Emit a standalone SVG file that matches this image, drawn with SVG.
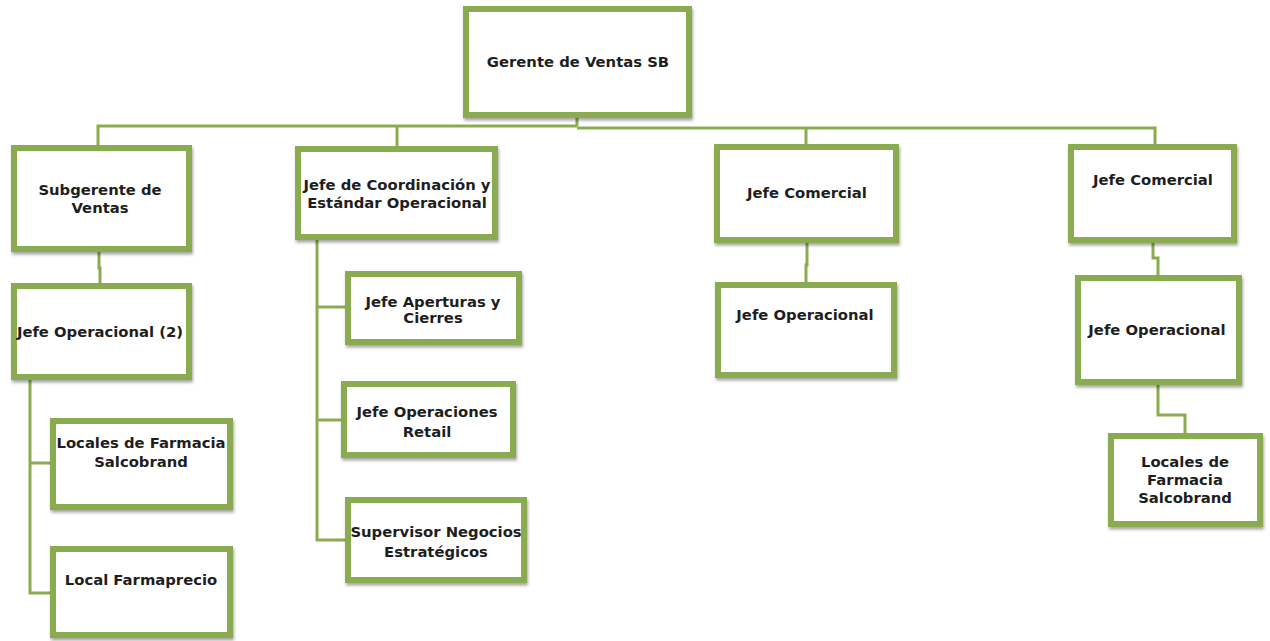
<svg xmlns="http://www.w3.org/2000/svg" width="1270" height="641" viewBox="0 0 1270 641">
  <defs>
    <filter id="shadow" x="-10%" y="-10%" width="120%" height="130%">
      <feDropShadow dx="1" dy="2.5" stdDeviation="1.6" flood-color="#000" flood-opacity="0.35"/>
    </filter>
  </defs>
  <style>
    .box { fill: #ffffff; stroke: #8aab4f; stroke-width: 6; filter: url(#shadow); }
    .link { fill: none; stroke: #8aab4f; stroke-width: 3; }
    text { font-family: "DejaVu Sans", "Liberation Sans", sans-serif; font-weight: bold; font-size: 14.8px; fill: #1e1e1e; text-anchor: middle; }
  </style>
  <rect width="1270" height="641" fill="#ffffff"/>

  <!-- connectors -->
  <g id="connectors">
    <!-- root to top-level bus -->
    <polyline class="link" points="577,118 577,126"/>
    <polyline class="link" points="98,146 98,126 577,126"/>
    <polyline class="link" points="397,146 397,126"/>
    <polyline class="link" points="577,128 1155,128 1155,144"/>
    <polyline class="link" points="806,128 806,144"/>
    <!-- Subgerente -> Jefe Operacional (2) -->
    <polyline class="link" points="99,252 99,268 100,268 100,284"/>
    <!-- Jefe Operacional (2) -> locales -->
    <polyline class="link" points="30,380 30,593 50,593"/>
    <polyline class="link" points="30,463 50,463"/>
    <!-- Jefe de Coordinación -> children -->
    <polyline class="link" points="317,240 317,540 345,540"/>
    <polyline class="link" points="317,307 345,307"/>
    <polyline class="link" points="317,420 341,420"/>
    <!-- Jefe Comercial -> Jefe Operacional -->
    <polyline class="link" points="807,243 807,265 806,265 806,283"/>
    <!-- Jefe Comercial (right) -> Jefe Operacional -> Locales -->
    <polyline class="link" points="1153,243 1153,258 1158,258 1158,275"/>
    <polyline class="link" points="1158,385 1158,415 1185,415 1185,433"/>
  </g>

  <g id="gerente-ventas">
    <rect class="box" x="466" y="9" width="223" height="106"/>
    <text x="578" y="67">Gerente de Ventas SB</text>
  </g>

  <g id="subgerente-ventas">
    <rect class="box" x="14" y="148" width="175" height="101"/>
    <text x="100" y="195">Subgerente de</text>
    <text x="100" y="213">Ventas</text>
  </g>

  <g id="jefe-operacional-2">
    <rect class="box" x="14" y="286" width="175" height="91"/>
    <text x="100" y="337">Jefe Operacional (2)</text>
  </g>

  <g id="locales-farmacia-1">
    <rect class="box" x="53" y="421" width="177" height="86"/>
    <text x="141" y="448">Locales de Farmacia</text>
    <text x="141" y="467">Salcobrand</text>
  </g>

  <g id="local-farmaprecio">
    <rect class="box" x="53" y="549" width="177" height="86"/>
    <text x="141" y="585">Local Farmaprecio</text>
  </g>

  <g id="jefe-coordinacion">
    <rect class="box" x="298" y="149" width="197" height="88"/>
    <text x="397" y="190">Jefe de Coordinación y</text>
    <text x="397" y="208">Estándar Operacional</text>
  </g>

  <g id="jefe-aperturas">
    <rect class="box" x="348" y="274" width="171" height="68"/>
    <text x="433" y="307">Jefe Aperturas y</text>
    <text x="433" y="323">Cierres</text>
  </g>

  <g id="jefe-operaciones-retail">
    <rect class="box" x="344" y="384" width="169" height="71"/>
    <text x="427" y="417">Jefe Operaciones</text>
    <text x="427" y="437">Retail</text>
  </g>

  <g id="supervisor-negocios">
    <rect class="box" x="348" y="500" width="176" height="80"/>
    <text x="436" y="537">Supervisor Negocios</text>
    <text x="436" y="557">Estratégicos</text>
  </g>

  <g id="jefe-comercial-1">
    <rect class="box" x="717" y="147" width="179" height="93"/>
    <text x="807" y="198">Jefe Comercial</text>
  </g>

  <g id="jefe-operacional-3">
    <rect class="box" x="718" y="285" width="176" height="90"/>
    <text x="805" y="320">Jefe Operacional</text>
  </g>

  <g id="jefe-comercial-2">
    <rect class="box" x="1071" y="147" width="163" height="93"/>
    <text x="1153" y="185">Jefe Comercial</text>
  </g>

  <g id="jefe-operacional-4">
    <rect class="box" x="1078" y="278" width="161" height="104"/>
    <text x="1157" y="335">Jefe Operacional</text>
  </g>

  <g id="locales-farmacia-2">
    <rect class="box" x="1111" y="436" width="149" height="88"/>
    <text x="1185" y="467">Locales de</text>
    <text x="1185" y="485">Farmacia</text>
    <text x="1185" y="503">Salcobrand</text>
  </g>
</svg>
